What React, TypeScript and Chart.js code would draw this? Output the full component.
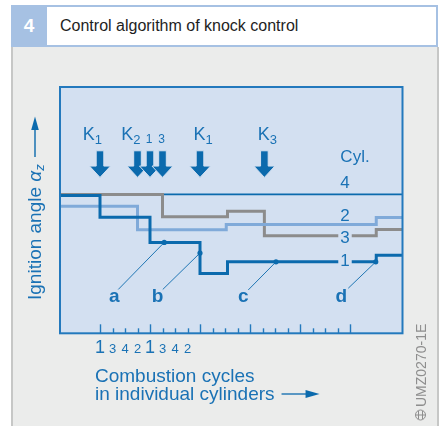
import React, { useEffect, useRef } from 'react';
import { Chart, registerables } from 'chart.js';

Chart.register(...registerables);

const FONT = '"Liberation Sans", Arial, Helvetica, sans-serif';

const FIG_NO = '4';
const TITLE = 'Control algorithm of knock control';
const Y_TITLE = 'Ignition angle ';
const X_TITLE_1 = 'Combustion cycles';
const X_TITLE_2 = 'in individual cylinders';
const WATERMARK = 'UMZ0270-1E';

// x: combustion cycles (one tick per cycle), y: ignition angle (arbitrary units)
const X_MIN = -3.2;
const X_MAX = 24.2;
const Y_MIN = 0;
const Y_MAX = 100;

// step lines: each point starts a new level
const cyl1X = [-3.2, 0, 4, 8, 10.2, 22.1, 24.2];
const cyl1Y = [55.9, 47.1, 36.9, 24.3, 29.0, 31.7, 31.7];
const cyl2X = [-3.2, 3, 10.1, 22.1, 24.2];
const cyl2Y = [51.6, 42.0, 44.2, 47.0, 47.0];
const cyl3X = [-3.2, 5, 10.2, 13.15, 22.1, 24.2];
const cyl3Y = [56.4, 47.3, 49.6, 39.6, 42.1, 42.1];
const cyl4X = [-3.2, 24.2];
const cyl4Y = [56.4, 56.4];

// cylinder labels at the right
const cylNames = ['1', '2', '3', '4'];
const cylLabelY = [29.3, 47.7, 38.6, 61.0];
const cylLabelX = 19.6;
const cylHeader = 'Cyl.';
const cylHeaderPos = [20.4, 71.5];

// knock events (arrows)
const knockX = [0, 3, 4, 5, 8, 13.15];
const knockMain = ['K', 'K', '', '', 'K', 'K'];
const knockSub = ['1', '2', '1', '3', '1', '3'];
const knockTipY = 63.3;

// x tick labels (firing order)
const cycleTicks = [0, 1, 2, 3, 4, 5, 6, 7, 8, 9, 10, 11, 12, 13, 14, 15, 16, 17, 18, 19, 20];
const cycleTickLabels = ['1', '3', '4', '2', '1', '3', '4', '2'];

// marked points a-d
const markerNames = ['a', 'b', 'c', 'd'];
const markerX = [5.14, 8, 14.08, 22.06];
const markerY = [36.9, 32.6, 29.0, 29.0];
const leaderEndX = [1.46, 5.02, 11.86, 19.86];
const leaderEndY = [17.8, 17.8, 17.6, 18.3];
const markerLabelX = [1.14, 4.6, 11.46, 19.3];
const markerLabelY = 12.7;

const C_DARK = '#0b6aad';
const C_LIGHT = '#80aad9';
const C_GREY = '#8c8c8c';
const C_BG = '#d3e0f1';
const C_BORDER = '#2379bd';
const C_TEXT = '#1a72b5';

const pts = (xs: number[], ys: number[]) => xs.map((x, i) => ({ x, y: ys[i] }));

// label offsets in px from each arrow
const knockLabelDx = [-7.6, -6.7, -1, -1, 3, 3];

function drawArrow(ctx: CanvasRenderingContext2D, x: number, tipY: number) {
  const shaftW = 7.6, headW = 21, headH = 11.3, shaftTop = tipY - 26.6;
  ctx.beginPath();
  ctx.moveTo(x - shaftW / 2, shaftTop);
  ctx.lineTo(x + shaftW / 2, shaftTop);
  ctx.lineTo(x + shaftW / 2, tipY - headH);
  ctx.lineTo(x + headW / 2, tipY - headH);
  ctx.lineTo(x, tipY);
  ctx.lineTo(x - headW / 2, tipY - headH);
  ctx.lineTo(x - shaftW / 2, tipY - headH);
  ctx.closePath();
  ctx.fill();
  ctx.stroke();
}

const decorPlugin = {
  id: 'decor',
  beforeDraw(chart: any) {
    const { ctx, chartArea: a } = chart;
    ctx.save();
    ctx.fillStyle = C_BG;
    ctx.fillRect(a.left, a.top, a.right - a.left, a.bottom - a.top);
    ctx.restore();
  },
  afterDatasetsDraw(chart: any) {
    const { ctx, chartArea: a } = chart;
    const sx = chart.scales.x, sy = chart.scales.y;
    const px = (v: number) => sx.getPixelForValue(v);
    const py = (v: number) => sy.getPixelForValue(v);
    ctx.save();

    // cylinder labels
    ctx.font = `17px ${FONT}`;
    ctx.textAlign = 'center';
    ctx.textBaseline = 'middle';
    cylNames.forEach((n, i) => {
      const x = px(cylLabelX), y = py(cylLabelY[i]);
      const w = ctx.measureText(n).width;
      ctx.fillStyle = C_BG;
      ctx.fillRect(x - w / 2 - 2, y - 6.5, w + 4, 13);
      ctx.fillStyle = C_TEXT;
      ctx.fillText(n, x, y + 0.5);
    });
    ctx.fillText(cylHeader, px(cylHeaderPos[0]), py(cylHeaderPos[1]));

    // arrows
    ctx.fillStyle = C_DARK;
    ctx.strokeStyle = C_BG;
    ctx.lineWidth = 1;
    ctx.lineJoin = 'miter';
    knockX.forEach((k) => drawArrow(ctx, px(k), py(knockTipY)));

    // arrow labels
    ctx.textBaseline = 'alphabetic';
    ctx.textAlign = 'left';
    ctx.fillStyle = C_TEXT;
    knockX.forEach((k, i) => {
      const cx = px(k) + knockLabelDx[i];
      if (knockMain[i]) {
        ctx.font = `18px ${FONT}`;
        const w1 = ctx.measureText(knockMain[i]).width;
        ctx.font = `13px ${FONT}`;
        const w2 = ctx.measureText(knockSub[i]).width;
        const x0 = cx - (w1 + w2) / 2;
        ctx.font = `18px ${FONT}`;
        ctx.fillText(knockMain[i], x0, 140);
        ctx.font = `13px ${FONT}`;
        ctx.fillText(knockSub[i], x0 + w1, 143.5);
      } else {
        ctx.font = `12px ${FONT}`;
        const w = ctx.measureText(knockSub[i]).width;
        ctx.fillText(knockSub[i], cx - w / 2, 143.3);
      }
    });

    // markers
    ctx.strokeStyle = C_DARK;
    ctx.fillStyle = C_DARK;
    ctx.lineWidth = 0.9;
    markerNames.forEach((n, i) => {
      const x = px(markerX[i]), y = py(markerY[i]);
      ctx.beginPath();
      ctx.moveTo(x, y);
      ctx.lineTo(px(leaderEndX[i]), py(leaderEndY[i]));
      ctx.stroke();
      ctx.beginPath();
      ctx.arc(x, y, 2.6, 0, Math.PI * 2);
      ctx.fill();
    });
    ctx.font = `bold 19px ${FONT}`;
    ctx.textAlign = 'center';
    ctx.fillStyle = C_TEXT;
    markerNames.forEach((n, i) => {
      ctx.fillText(n, px(markerLabelX[i]), py(markerLabelY));
    });

    // frame
    ctx.strokeStyle = C_BORDER;
    ctx.lineWidth = 2;
    ctx.strokeRect(a.left, a.top, a.right - a.left, a.bottom - a.top);

    // x ticks
    ctx.lineWidth = 1.4;
    cycleTicks.forEach((t) => {
      const x = Math.round(px(t)) + 0.5;
      const len = t % 4 === 0 ? 9 : 5;
      ctx.beginPath();
      ctx.moveTo(x, a.bottom);
      ctx.lineTo(x, a.bottom - len);
      ctx.stroke();
    });
    ctx.fillStyle = C_TEXT;
    ctx.textAlign = 'center';
    ctx.textBaseline = 'alphabetic';
    cycleTickLabels.forEach((l, i) => {
      ctx.font = i % 4 === 0 ? `18px ${FONT}` : `13px ${FONT}`;
      ctx.fillText(l, px(cycleTicks[i]), a.bottom + 20);
    });

    // x title
    ctx.font = `19px ${FONT}`;
    ctx.textAlign = 'left';
    ctx.fillText(X_TITLE_1, 95, 381.7);
    ctx.fillText(X_TITLE_2, 95, 400);
    const endX = 95 + ctx.measureText(X_TITLE_2).width;
    ctx.strokeStyle = C_DARK;
    ctx.lineWidth = 1.3;
    ctx.beginPath();
    ctx.moveTo(endX + 7, 394);
    ctx.lineTo(endX + 33, 394);
    ctx.stroke();
    ctx.fillStyle = C_DARK;
    ctx.beginPath();
    ctx.moveTo(endX + 31, 390);
    ctx.lineTo(endX + 45, 394);
    ctx.lineTo(endX + 31, 398);
    ctx.closePath();
    ctx.fill();

    // y title (rotated)
    ctx.save();
    ctx.translate(41, 300);
    ctx.rotate(-Math.PI / 2);
    ctx.fillStyle = C_TEXT;
    ctx.font = `19px ${FONT}`;
    ctx.textAlign = 'left';
    ctx.fillText(Y_TITLE, 0, 0);
    let w = ctx.measureText(Y_TITLE).width;
    ctx.font = `italic 19px ${FONT}`;
    ctx.fillText('\u03B1', w, 0);
    w += ctx.measureText('\u03B1').width;
    ctx.font = `italic 13px ${FONT}`;
    ctx.fillText('z', w, 3);
    w += ctx.measureText('z').width;
    // arrow up
    ctx.strokeStyle = C_DARK;
    ctx.lineWidth = 1.4;
    ctx.beginPath();
    ctx.moveTo(143, -6);
    ctx.lineTo(172, -6);
    ctx.stroke();
    ctx.fillStyle = C_DARK;
    ctx.beginPath();
    ctx.moveTo(170, -9.8);
    ctx.lineTo(183.5, -6);
    ctx.lineTo(170, -2.2);
    ctx.closePath();
    ctx.fill();
    ctx.restore();

    // watermark
    ctx.save();
    ctx.translate(426, 407);
    ctx.rotate(-Math.PI / 2);
    ctx.fillStyle = '#8e8e8e';
    ctx.font = `14px ${FONT}`;
    ctx.textAlign = 'left';
    ctx.fillText(WATERMARK, 0, 0);
    ctx.restore();
    ctx.strokeStyle = '#8e8e8e';
    ctx.lineWidth = 1;
    ctx.beginPath();
    ctx.arc(420.5, 415, 5, 0, Math.PI * 2);
    ctx.stroke();
    ctx.beginPath();
    ctx.moveTo(415.5, 415); ctx.lineTo(425.5, 415);
    ctx.moveTo(418.5, 411); ctx.lineTo(418.5, 419);
    ctx.moveTo(422.5, 411); ctx.lineTo(422.5, 419);
    ctx.stroke();

    ctx.restore();
  },
};

export default function App() {
  const ref = useRef<HTMLCanvasElement>(null);
  useEffect(() => {
    const canvas = ref.current;
    if (!canvas) return;
    const common = { stepped: true as const, pointRadius: 0, fill: false, borderCapStyle: 'butt' as const, borderJoinStyle: 'miter' as const };
    const chart = new Chart(canvas, {
      type: 'line',
      data: {
        datasets: [
          { label: 'Cyl. 1', data: pts(cyl1X, cyl1Y), borderColor: C_DARK, borderWidth: 3, ...common },
          { label: 'Cyl. 2', data: pts(cyl2X, cyl2Y), borderColor: C_LIGHT, borderWidth: 3, ...common },
          { label: 'Cyl. 3', data: pts(cyl3X, cyl3Y), borderColor: C_GREY, borderWidth: 3, ...common },
          { label: 'Cyl. 4', data: pts(cyl4X, cyl4Y), borderColor: C_DARK, borderWidth: 1.6, ...common },
        ],
      },
      options: {
        animation: false,
        responsive: false,
        devicePixelRatio: 1,
        events: [],
        layout: { padding: { left: 60, top: 87, right: 441 - 402.5, bottom: 426 - 333.3 } },
        scales: {
          x: { type: 'linear', min: X_MIN, max: X_MAX, display: false },
          y: { type: 'linear', min: Y_MIN, max: Y_MAX, display: false },
        },
        plugins: { legend: { display: false }, tooltip: { enabled: false } },
      },
      plugins: [decorPlugin],
    });
    return () => chart.destroy();
  }, []);

  return (
    <div style={{ position: 'absolute', left: 0, top: 0, width: 441, height: 426, background: '#ffffff', overflow: 'hidden', fontFamily: FONT }}>
      <div style={{ position: 'absolute', left: 11, top: 47, width: 428, height: 379, background: '#ebeceb', borderLeft: '2px solid #c6c7c6', borderRight: '2px solid #c6c7c6', boxSizing: 'border-box' }} />
      <div style={{ position: 'absolute', left: 11, top: 5, width: 36, height: 42, background: '#a6c1e3', color: '#ffffff', fontWeight: 'bold', fontSize: 19, display: 'flex', alignItems: 'center', justifyContent: 'center' }}>{FIG_NO}</div>
      <div style={{ position: 'absolute', left: 47, top: 5, width: 391, height: 42, boxSizing: 'border-box', borderTop: '2px solid #a6c1e3', borderRight: '2px solid #a6c1e3', borderBottom: '2px solid #a6c1e3', background: '#ffffff', fontSize: 16, color: '#1e1e1e', display: 'flex', alignItems: 'center', paddingLeft: 13 }}>{TITLE}</div>
      <canvas ref={ref} width={441} height={426} style={{ position: 'absolute', left: 0, top: 0, width: 441, height: 426 }} />
    </div>
  );
}
